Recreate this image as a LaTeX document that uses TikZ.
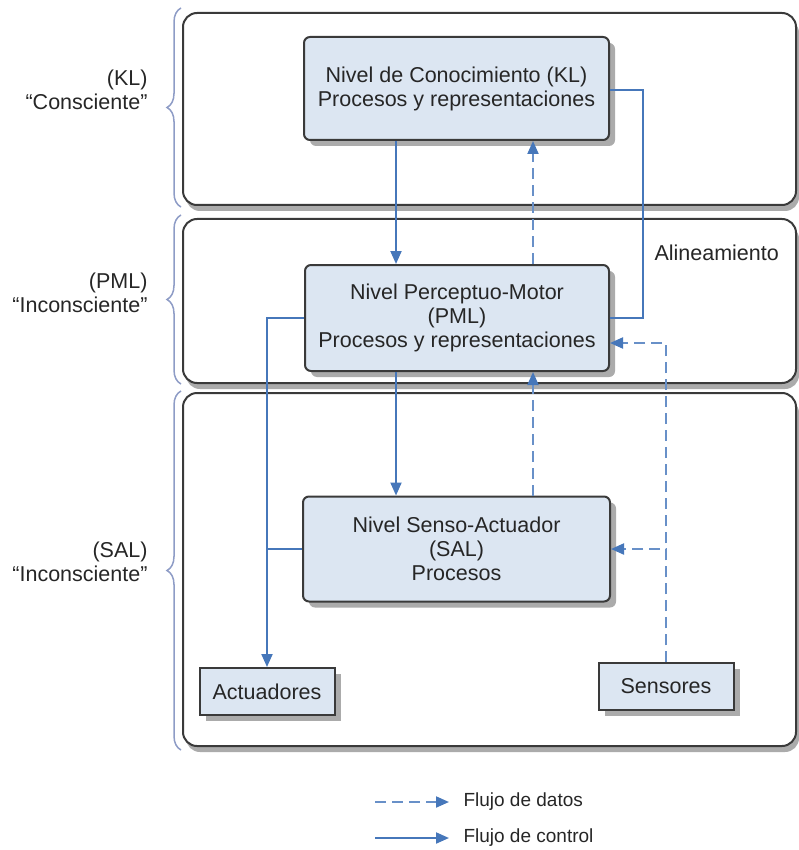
\documentclass[tikz,border=0pt]{standalone}
\usepackage{fontspec}
\setmainfont{Liberation Sans}
\usetikzlibrary{arrows.meta,decorations.pathreplacing,shadows}

\definecolor{boxfill}{HTML}{DCE6F2}
\definecolor{boxline}{HTML}{3A3A3A}
\definecolor{shade}{HTML}{ABABAB}
\definecolor{flowc}{HTML}{4677BA}
\definecolor{dataflow}{HTML}{6890C8}
\definecolor{bracec}{HTML}{8E9CC6}
\definecolor{textc}{HTML}{262626}

\tikzset{
  txt/.style={font=\fontsize{21.5}{24}\selectfont, text=textc},
  frame/.style={draw=boxline, line width=2pt, fill=white, rounded corners=14pt,
    drop shadow={shadow xshift=3pt, shadow yshift=-6pt, fill=shade, opacity=1}},
  levelbox/.style={txt, draw=boxline, line width=2pt, fill=boxfill, rounded corners=6pt,
    align=center, inner sep=0pt,
    drop shadow={shadow xshift=6pt, shadow yshift=-6pt, fill=shade, opacity=1}},
  devbox/.style={levelbox, rounded corners=0pt, minimum width=135pt, minimum height=47pt},
  ctrl/.style={draw=flowc, line width=2pt,
    -{Triangle[length=13pt,width=11pt,fill=flowc,color=flowc]}},
  ctrlline/.style={draw=flowc, line width=2pt},
  data/.style={draw=dataflow, line width=2pt, dash pattern=on 11pt off 6pt,
    -{Triangle[length=13pt,width=11pt,fill=flowc,color=flowc]}},
  layerbrace/.style={draw=bracec, line width=1.5pt,
    decorate, decoration={brace, amplitude=14pt}},
  sidelabel/.style={txt, anchor=east, align=right},
}

\begin{document}
\begin{tikzpicture}[x=1pt, y=-1pt]
  \useasboundingbox (0,0) rectangle (799,850);

  % layer frames
  \draw[frame] (183,13) rectangle (796,205);
  \draw[frame] (183,219) rectangle (796,383);
  \draw[frame] (183,393) rectangle (796,746);

  % braces and layer names on the left
  \draw[layerbrace] (181,207) -- (181,8);
  \draw[layerbrace] (181,384) -- (181,215);
  \draw[layerbrace] (181,750) -- (181,391);
  \node[sidelabel] (lkl)  at (151,90)  {(KL)\\“Consciente”};
  \node[sidelabel] (lpml) at (151,293) {(PML)\\“Inconsciente”};
  \node[sidelabel] (lsal) at (151,562) {(SAL)\\“Inconsciente”};

  % level boxes
  \node[levelbox, minimum width=305pt, minimum height=103pt] (KL) at (456.5,88.5)
    {Nivel de Conocimiento (KL)\\Procesos y representaciones};
  \node[levelbox, minimum width=304pt, minimum height=106pt] (PML) at (457,318)
    {Nivel Perceptuo-Motor\\(PML)\\Procesos y representaciones};
  \node[levelbox, minimum width=307pt, minimum height=105pt] (SAL) at (456.5,549)
    {Nivel Senso-Actuador\\(SAL)\\Procesos};
  \node[devbox] (Act) at (267,691.5) {Actuadores};
  \node[devbox] (Sen) at (666,686.5) {Sensores};

  \node[txt, anchor=west] (align) at (651,253) {Alineamiento};

  % guide columns for the vertical connectors
  \coordinate (xa) at (396,0);
  \coordinate (xb) at (533,0);
  \coordinate (xr) at (643,0);

  % control flow
  \draw[ctrl] (KL.south -| xa) -- (PML.north -| xa);
  \draw[ctrl] (PML.south -| xa) -- (SAL.north -| xa);
  \draw[ctrlline] ([yshift=-1.5pt]KL.east) -- ([yshift=-1.5pt]KL.east -| xr) -- (PML.east -| xr) -- (PML.east);
  \draw[ctrl] (PML.west) -| (Act.north);
  \draw[ctrlline] (SAL.west) -- (SAL.west -| Act.north);

  % data flow
  \draw[data] (PML.north -| xb) -- (KL.south -| xb);
  \draw[data] (SAL.north -| xb) -- (PML.south -| xb);
  \draw[data] (Sen.north) |- (SAL.east);
  \draw[data] (Sen.north) |- ([yshift=-25pt]PML.east);

  % legend
  \coordinate (la) at (375,802);
  \coordinate (lb) at (449,802);
  \coordinate (lc) at (375,838);
  \coordinate (ld) at (449,838);
  \draw[data] (la) -- (lb);
  \draw[ctrl] (lc) -- (ld);
  \node[font=\fontsize{19}{22}\selectfont, text=textc, anchor=west] (ldata) at (460,802) {Flujo de datos};
  \node[font=\fontsize{19}{22}\selectfont, text=textc, anchor=west] (lctrl) at (460,838) {Flujo de control};
\end{tikzpicture}
\end{document}
